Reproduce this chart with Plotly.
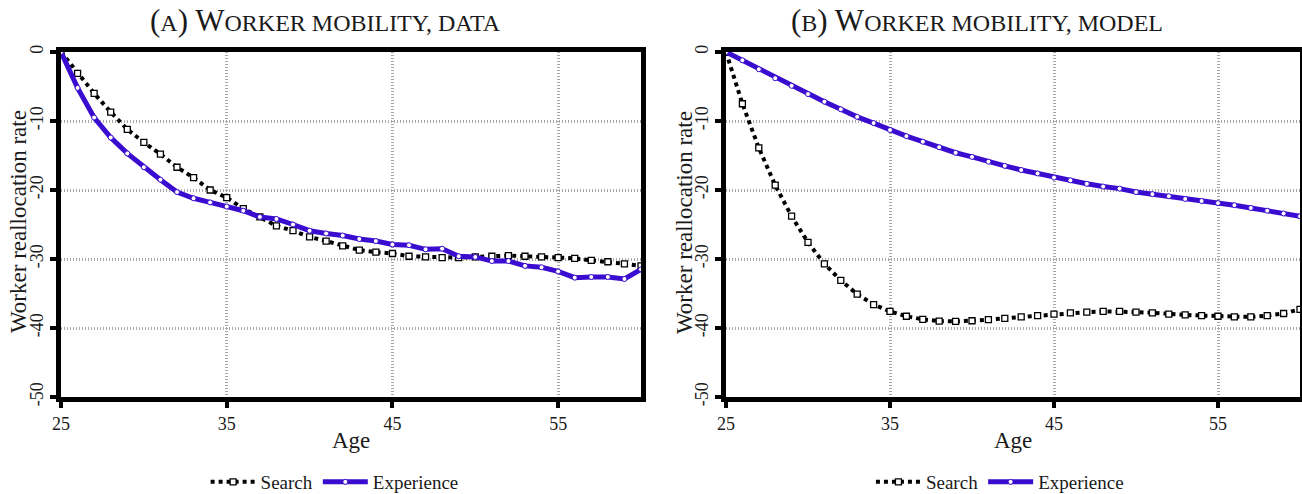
import plotly.graph_objects as go

# Ages 25..60 (one point per year)
ages = list(range(25, 61))

# Panel A: data
search_data = [0.0, -3.1, -6.0, -8.7, -11.2, -13.1, -14.8, -16.7, -18.2, -20.0,
               -21.1, -22.7, -23.9, -25.2, -25.9, -26.8, -27.4, -28.1, -28.7, -29.0,
               -29.2, -29.6, -29.7, -29.8, -29.8, -29.7, -29.6, -29.5, -29.6, -29.7,
               -29.8, -29.9, -30.2, -30.4, -30.7, -31.0]
experience_data = [0.0, -5.2, -9.5, -12.4, -14.7, -16.7, -18.5, -20.3, -21.2, -21.8,
                   -22.4, -23.0, -23.9, -24.2, -25.0, -25.9, -26.3, -26.6, -27.1, -27.4,
                   -27.9, -28.0, -28.6, -28.5, -29.6, -29.7, -30.3, -30.3, -31.0, -31.2,
                   -31.8, -32.7, -32.6, -32.6, -32.9, -31.5]

# Panel B: model
search_model = [0.0, -7.5, -13.9, -19.3, -23.8, -27.6, -30.7, -33.1, -35.1, -36.6,
                -37.6, -38.3, -38.75, -39.0, -39.05, -38.95, -38.8, -38.6, -38.4, -38.2,
                -38.0, -37.8, -37.7, -37.6, -37.6, -37.7, -37.8, -38.0, -38.1, -38.2,
                -38.3, -38.4, -38.4, -38.2, -37.9, -37.3]
experience_model = [0.0, -1.2, -2.5, -3.8, -4.9, -6.1, -7.2, -8.3, -9.4, -10.3,
                    -11.3, -12.2, -13.0, -13.8, -14.6, -15.2, -15.9, -16.5, -17.1, -17.6,
                    -18.2, -18.6, -19.1, -19.5, -19.8, -20.3, -20.6, -20.9, -21.3, -21.6,
                    -21.9, -22.2, -22.6, -23.0, -23.4, -23.8]

x_ticks = [25, 35, 45, 55]
y_ticks = [0, -10, -20, -30, -40, -50]

BLUE = "#3A0CCF"
SERIF = "Liberation Serif"
TEXT = "#1a1a1a"

fig = go.Figure()


def add_pair(search, experience, xa, ya, legend):
    fig.add_trace(go.Scatter(
        x=ages, y=search, name="Search", mode="lines+markers",
        xaxis=xa, yaxis=ya, legend=legend,
        line=dict(color="black", width=4, dash="dot"),
        marker=dict(symbol="square", size=6, color="white",
                    line=dict(color="black", width=1.3)),
    ))
    fig.add_trace(go.Scatter(
        x=ages, y=experience, name="Experience", mode="lines+markers",
        xaxis=xa, yaxis=ya, legend=legend,
        line=dict(color=BLUE, width=5),
        marker=dict(symbol="circle", size=5, color="white",
                    line=dict(color=BLUE, width=1)),
    ))


add_pair(search_data, experience_data, "x", "y", "legend")
add_pair(search_model, experience_model, "x2", "y2", "legend2")

W, H = 1302, 494
dom_y = [1 - 397 / H, 1 - 52 / H]

common = dict(
    showline=True, linecolor="black", linewidth=5, mirror=True,
    ticks="outside", ticklen=6, tickwidth=4, tickcolor="black",
    showgrid=True, gridcolor="#a8a8a8", gridwidth=3, griddash="1px,2px",
    zeroline=False, tickfont=dict(family=SERIF, size=18, color=TEXT),
)
xaxis_style = dict(range=[25, 60], tickvals=x_ticks,
                   ticktext=[str(v) for v in x_ticks], **common)
yaxis_style = dict(range=[-50, 0], tickvals=y_ticks,
                   ticktext=[str(v) for v in y_ticks], tickangle=-90, **common)

legend_style = dict(orientation="h", y=1 - 482 / H, xanchor="center",
                    yanchor="middle", font=dict(family=SERIF, size=19, color=TEXT),
                    itemwidth=45, tracegroupgap=0, bgcolor="rgba(0,0,0,0)")

fig.update_layout(
    width=W, height=H,
    margin=dict(l=0, r=0, t=0, b=0, autoexpand=False),
    paper_bgcolor="white", plot_bgcolor="white",
    font=dict(family=SERIF, color=TEXT),
    xaxis=dict(domain=[61 / W, 641 / W], anchor="y", **xaxis_style),
    yaxis=dict(domain=dom_y, anchor="x", **yaxis_style),
    xaxis2=dict(domain=[726 / W, 1300 / W], anchor="y2", **xaxis_style),
    yaxis2=dict(domain=dom_y, anchor="x2", **yaxis_style),
    legend=dict(x=0.257, **legend_style),
    legend2=dict(x=0.768, **legend_style),
    showlegend=True,
)


def small_caps_title(letter, rest):
    sm = "font-size:24px"
    return (f"(<span style='{sm}'>{letter}</span>) W"
            f"<span style='{sm}'>{rest}</span>")


titles = [
    (0.25, small_caps_title("A", "ORKER MOBILITY, DATA")),
    (0.75, small_caps_title("B", "ORKER MOBILITY, MODEL")),
]
for tx, ttext in titles:
    fig.add_annotation(xref="paper", yref="paper", x=tx, y=1 - 20 / H,
                       text=ttext, showarrow=False, xanchor="center",
                       yanchor="middle",
                       font=dict(family=SERIF, size=31, color=TEXT))

# Axis titles
for cx in [351, 1013]:
    fig.add_annotation(xref="paper", yref="paper", x=cx / W, y=1 - 440 / H,
                       text="Age", showarrow=False, xanchor="center", yanchor="middle",
                       font=dict(family=SERIF, size=23, color=TEXT))
for cx in [18, 684]:
    fig.add_annotation(xref="paper", yref="paper", x=cx / W, y=1 - 222 / H,
                       text="Worker reallocation rate", showarrow=False, textangle=-90,
                       xanchor="center", yanchor="middle",
                       font=dict(family=SERIF, size=23, color=TEXT))

fig.write_html("out.html")
